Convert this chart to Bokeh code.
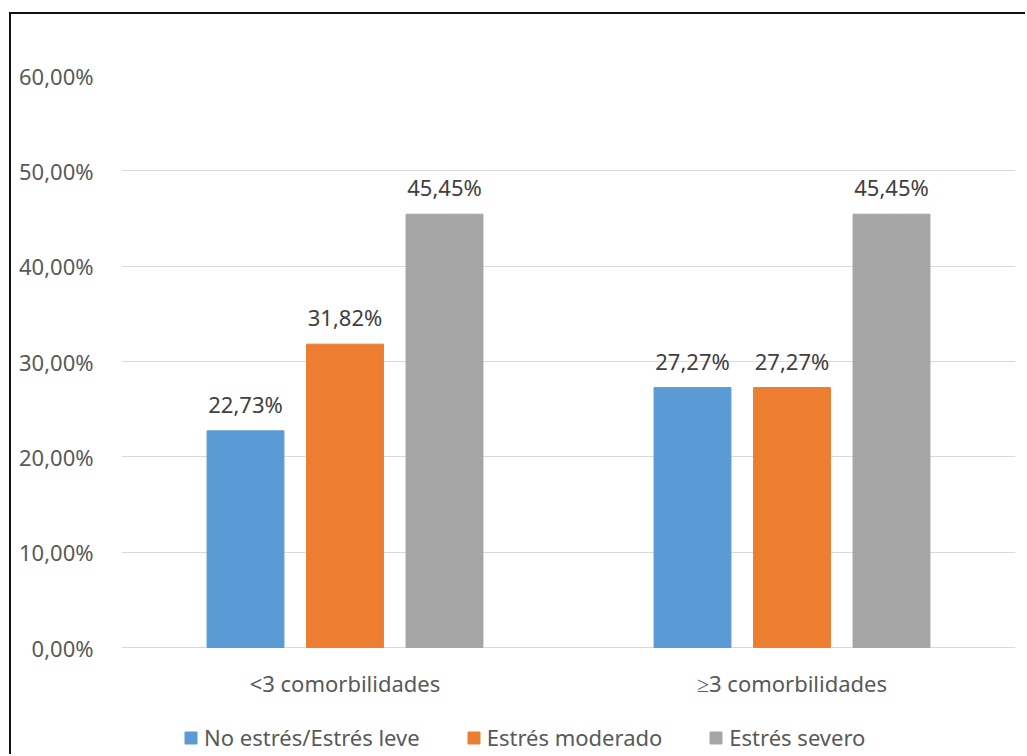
from bokeh.plotting import figure
from bokeh.models import ColumnDataSource, FactorRange, Range1d, LabelSet, Legend, LegendItem, FixedTicker, CustomJSTickFormatter
from bokeh.core.properties import value
from bokeh.transform import dodge
from bokeh.embed import file_html
from bokeh.resources import INLINE

categories = ["<3 comorbilidades", "≥3 comorbilidades"]
series_names = ["No estrés/Estrés leve", "Estrés moderado", "Estrés severo"]
no_estres = [22.73, 27.27]
moderado = [31.82, 27.27]
severo = [45.45, 45.45]
y_ticks = [0, 10, 20, 30, 40, 50, 60]
colors = ["#5B9BD5", "#ED7D31", "#A5A5A5"]

FONT = "Noto Sans"
FS = "22px"

def fmt(v):
    return ("%.2f%%" % v).replace(".", ",")

src = ColumnDataSource(data=dict(
    cat=categories,
    base=[0] * len(categories),
    s0=no_estres, s1=moderado, s2=severo,
    l0=[fmt(v) for v in no_estres],
    l1=[fmt(v) for v in moderado],
    l2=[fmt(v) for v in severo],
))

# frame extends below zero so that category labels and legend sit inside the frame
p = figure(x_range=FactorRange(*categories, range_padding=0), y_range=Range1d(-11.43, 60),
           width=1016, height=742, output_backend="svg", toolbar_location=None,
           min_border_left=110, min_border_right=12, min_border_top=61, min_border_bottom=0)
p.margin = (12, 0, 0, 9)
p.styles = {"border-left": "2px solid #111", "border-top": "2px solid #111"}
p.outline_line_color = None
p.background_fill_color = "white"
p.border_fill_color = "white"

offsets = [-0.2226, 0.0, 0.2226]
width = 0.172
renderers = []
for i, (key, lab) in enumerate([("s0", "l0"), ("s1", "l1"), ("s2", "l2")]):
    r = p.vbar(x=dodge("cat", offsets[i], range=p.x_range), top=key, bottom="base", width=width,
               source=src, fill_color=colors[i], line_color=colors[i])
    renderers.append(r)
    ls = LabelSet(x=dodge("cat", offsets[i], range=p.x_range), y=key, text=lab, source=src,
                  text_align="center", text_baseline="middle", y_offset=27,
                  text_font=value(FONT), text_font_size=value(FS), text_color="#404040")
    p.add_layout(ls)

cat_labels = LabelSet(x="cat", y="base", text="cat", source=src, text_align="center",
                      text_baseline="middle", y_offset=-35, text_font=value(FONT),
                      text_font_size=value(FS), text_color="#595959")
p.add_layout(cat_labels)

p.xaxis.visible = False
p.yaxis.ticker = FixedTicker(ticks=y_ticks)
p.yaxis.formatter = CustomJSTickFormatter(code="return tick.toFixed(2).replace('.', ',') + '%';")
p.yaxis.axis_line_color = None
p.yaxis.major_tick_line_color = None
p.yaxis.minor_tick_line_color = None
p.yaxis.major_label_standoff = 22
p.yaxis.major_label_text_font = FONT
p.yaxis.major_label_text_font_size = FS
p.yaxis.major_label_text_color = "#595959"

p.xgrid.grid_line_color = None
p.ygrid.grid_line_color = "#d9d9d9"
p.ygrid.grid_line_width = 1

legend = Legend(items=[LegendItem(label=series_names[i], renderers=[renderers[i]]) for i in range(3)],
                orientation="horizontal", location=(62, 4),
                glyph_width=15, glyph_height=15, label_standoff=6, spacing=46,
                label_text_font=FONT, label_text_font_size=FS, label_text_color="#595959",
                border_line_color=None, background_fill_alpha=0, padding=0, margin=0)
p.add_layout(legend, "center")

open("out.html", "w").write(file_html(p, INLINE))
